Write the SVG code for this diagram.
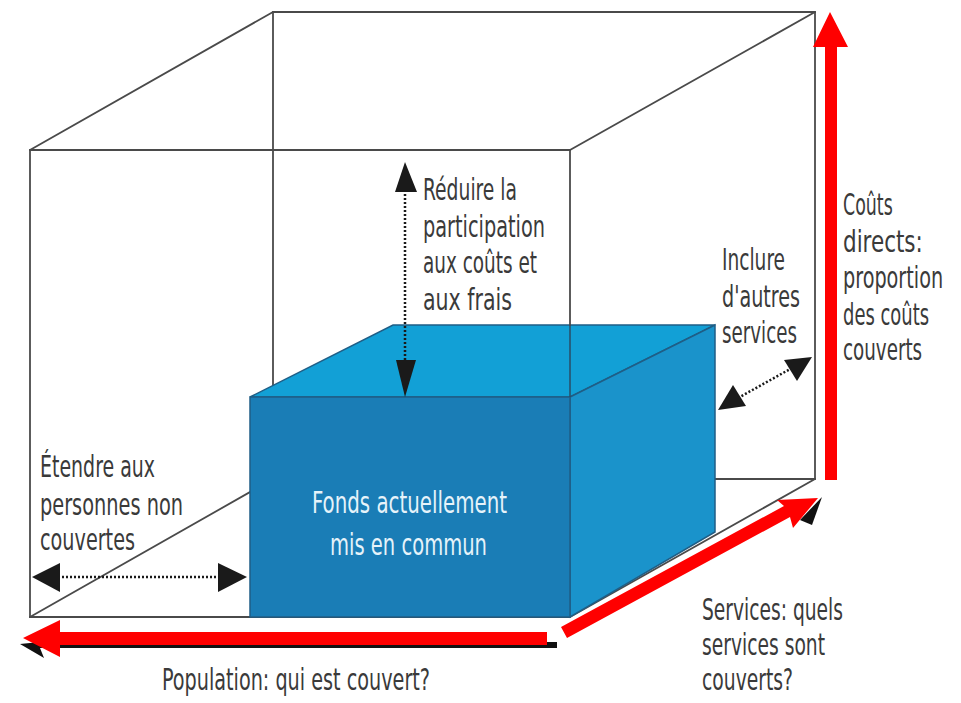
<svg xmlns="http://www.w3.org/2000/svg" width="961" height="703" viewBox="0 0 961 703">
<style>
.edge{stroke:#4a4a4a;stroke-width:1.8;fill:none;stroke-linecap:round}
.lbl{font-family:"Liberation Sans Narrow","DejaVu Sans Condensed","Liberation Sans",sans-serif;font-size:30px;fill:#3a3a3a}
.inbox{fill:#e6f3fa}
.dot{stroke:#1a1a1a;stroke-width:2.5;stroke-dasharray:2 2;fill:none}
.head{fill:#1a1a1a}
.red{fill:#ff0000}
.shadow{fill:#111}
</style>
<rect width="961" height="703" fill="#ffffff"/>
<g id="cube">
<line class="edge" x1="273" y1="12" x2="815" y2="12"/>
<line class="edge" x1="30" y1="150" x2="273" y2="12"/>
<line class="edge" x1="570" y1="150" x2="815" y2="12"/>
<line class="edge" x1="273" y1="12" x2="273" y2="479"/>
<line class="edge" x1="815" y1="12" x2="815" y2="479"/>
<line class="edge" x1="273" y1="479" x2="815" y2="479"/>
<line class="edge" x1="30" y1="617" x2="273" y2="479"/>
<line class="edge" x1="570" y1="617" x2="815" y2="479"/>
<line class="edge" x1="30" y1="150" x2="570" y2="150"/>
<line class="edge" x1="30" y1="150" x2="30" y2="617"/>
<line class="edge" x1="30" y1="617" x2="570" y2="617"/>
</g>
<g id="box">
<polygon points="250,397 393,325 715,325 570,397" fill="#12a0d6" stroke="#1f5e86" stroke-width="1.5"/>
<polygon points="570,397 715,325 715,532 570,617" fill="#1a93cb" stroke="#1f5e86" stroke-width="1.5"/>
<rect x="250" y="397" width="320" height="220" fill="#1a7db6" stroke="#1f5e86" stroke-width="1.5"/>
<line x1="570" y1="325" x2="570" y2="397" stroke="#2a4d66" stroke-width="1.5"/>
<text class="lbl inbox" x="312" y="513" textLength="195" lengthAdjust="spacingAndGlyphs">Fonds actuellement</text>
<text class="lbl inbox" x="330" y="555" textLength="157" lengthAdjust="spacingAndGlyphs">mis en commun</text>
</g>
<line class="edge" x1="570" y1="150" x2="570" y2="325"/>
<g id="connectors">
<g id="arrow-reduire">
<line class="dot" x1="405" y1="190" x2="405" y2="362"/>
<polygon class="head" points="405,162 395,192 417,192"/>
<polygon class="head" points="405,397 396,360 416,360"/>
</g>
<g id="arrow-etendre">
<line class="dot" x1="58" y1="577" x2="220" y2="577"/>
<polygon class="head" points="32,577 60,563 60,592"/>
<polygon class="head" points="247,577 218,563 218,592"/>
</g>
<g id="arrow-inclure">
<line class="dot" x1="738" y1="398" x2="792" y2="368"/>
<polygon class="head" points="718,410 733,385 746,406"/>
<polygon class="head" points="812,357 784,360 797,381"/>
</g>
<g id="axis-population">
<polygon class="shadow" points="40,642 557,642 557,648 40,648 44,658 20,644"/>
<polygon class="red" points="23,638 60,620 60,632 547,632 547,645 60,645 60,657"/>
</g>
<g id="axis-services">
<polygon class="shadow" points="800,520 822,497 812,525"/>
<polygon class="red" points="567,638 561,627 784,506 777,500 818,498 793,528 790,517"/>
</g>
<g id="axis-couts">
<polygon class="red" points="830,12 848,47 837,47 837,480 825,480 825,47 813,47"/>
</g>
</g>
<g id="labels">
<text class="lbl" x="423" y="200" textLength="94" lengthAdjust="spacingAndGlyphs">Réduire la</text>
<text class="lbl" x="423" y="237" textLength="122" lengthAdjust="spacingAndGlyphs">participation</text>
<text class="lbl" x="423" y="273" textLength="114" lengthAdjust="spacingAndGlyphs">aux coûts et</text>
<text class="lbl" x="423" y="310" textLength="89" lengthAdjust="spacingAndGlyphs">aux frais</text>
<text class="lbl" x="722" y="270" textLength="63" lengthAdjust="spacingAndGlyphs">Inclure</text>
<text class="lbl" x="722" y="307" textLength="78" lengthAdjust="spacingAndGlyphs">d'autres</text>
<text class="lbl" x="722" y="343" textLength="75" lengthAdjust="spacingAndGlyphs">services</text>
<g id="label-couts" transform="translate(843,0) scale(0.7,1)">
<text class="lbl" x="0" y="215" textLength="71" lengthAdjust="spacingAndGlyphs">Coûts</text>
<text class="lbl" x="0" y="252" textLength="114" lengthAdjust="spacingAndGlyphs">directs:</text>
<text class="lbl" x="0" y="288" textLength="143" lengthAdjust="spacingAndGlyphs">proportion</text>
<text class="lbl" x="0" y="325" textLength="123" lengthAdjust="spacingAndGlyphs">des coûts</text>
<text class="lbl" x="0" y="360" textLength="113" lengthAdjust="spacingAndGlyphs">couverts</text>
</g>
<text class="lbl" x="40" y="477" textLength="115" lengthAdjust="spacingAndGlyphs">Étendre aux</text>
<text class="lbl" x="40" y="515" textLength="143" lengthAdjust="spacingAndGlyphs">personnes non</text>
<text class="lbl" x="40" y="550" textLength="95" lengthAdjust="spacingAndGlyphs">couvertes</text>
<text class="lbl" x="162" y="690" textLength="268" lengthAdjust="spacingAndGlyphs">Population: qui est couvert?</text>
<text class="lbl" x="702" y="620" textLength="141" lengthAdjust="spacingAndGlyphs">Services: quels</text>
<text class="lbl" x="702" y="655" textLength="123" lengthAdjust="spacingAndGlyphs">services sont</text>
<text class="lbl" x="702" y="690" textLength="91" lengthAdjust="spacingAndGlyphs">couverts?</text>
</g>
</svg>
